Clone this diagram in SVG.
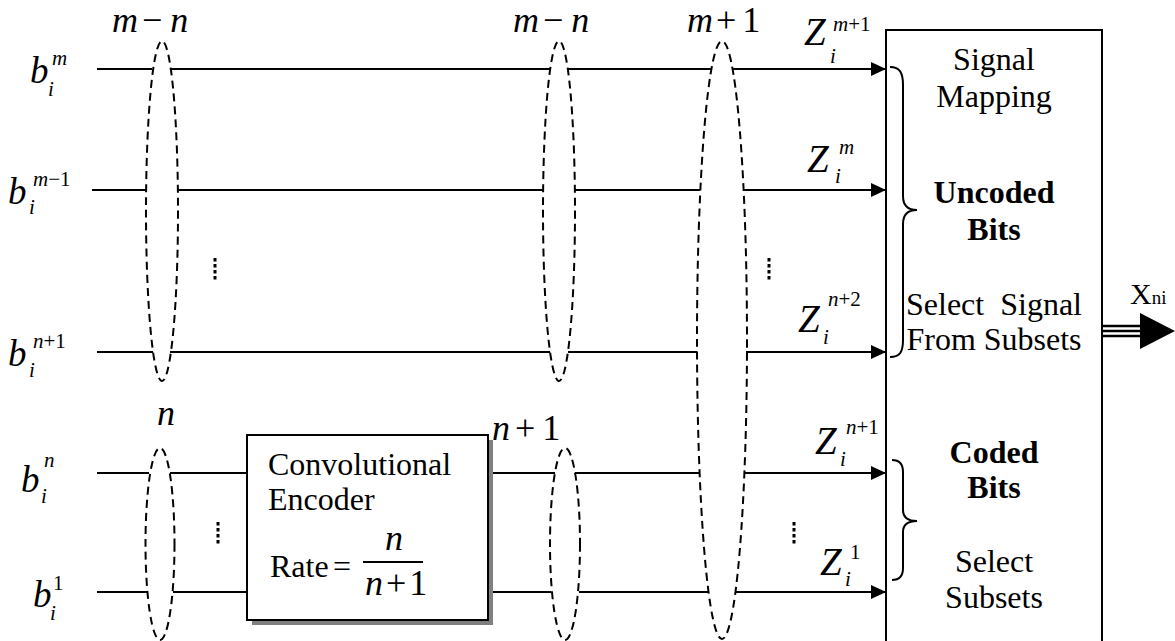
<svg xmlns="http://www.w3.org/2000/svg" width="1175" height="641" viewBox="0 0 1175 641">
<style>
text{font-family:"Liberation Serif","Times New Roman",serif;fill:#000}
.mi{font-style:italic;font-size:37px}
.mz{font-style:italic;font-size:39px}
.ms{font-style:italic;font-size:21px}
.up{font-style:normal}
.eq{font-size:36px}
.t{font-size:32px}
.tc{font-size:32px;text-anchor:middle}
.b{font-weight:bold}
.ln{stroke:#000;stroke-width:2;fill:none}
.el{stroke:#000;stroke-width:2;fill:none;stroke-dasharray:8 5}
.dots{stroke:#000;stroke-width:3;stroke-dasharray:3.5 2.5}
</style>
<defs>
<marker id="ah" markerWidth="15" markerHeight="14" refX="15" refY="7" orient="auto" markerUnits="userSpaceOnUse">
<path d="M0,0 L15,7 L0,14 Z" fill="#000"/>
</marker>
</defs>
<rect width="1175" height="641" fill="#fff"/>

<g id="connectors">
<path class="ln" d="M97,69H152M170,69H550M568,69H712"/>
<line class="ln" x1="732" y1="69" x2="886" y2="69" marker-end="url(#ah)"/>
<path class="ln" d="M92,190H146M177,190H543M574,190H700"/>
<line class="ln" x1="744" y1="190" x2="886" y2="190" marker-end="url(#ah)"/>
<path class="ln" d="M97,352H153M170,352H550M568,352H697"/>
<line class="ln" x1="746" y1="352" x2="886" y2="352" marker-end="url(#ah)"/>
<path class="ln" d="M97,473H149M170,473H247M488,473H555M575,473H700"/>
<line class="ln" x1="744" y1="473" x2="886" y2="473" marker-end="url(#ah)"/>
<path class="ln" d="M97,592H147M173,592H247M488,592H551M579,592H708"/>
<line class="ln" x1="735" y1="592" x2="886" y2="592" marker-end="url(#ah)"/>
<line class="dots" x1="215" y1="258" x2="215" y2="282"/>
<line class="dots" x1="769" y1="258" x2="769" y2="282"/>
<line class="dots" x1="218" y1="522" x2="218" y2="546"/>
<line class="dots" x1="794" y1="522" x2="794" y2="546"/>
</g>

<g id="groupings">
<ellipse class="el" cx="162" cy="211" rx="16" ry="170"/>
<ellipse class="el" cx="559" cy="211" rx="16" ry="170"/>
<ellipse class="el" cx="722" cy="340" rx="25" ry="299"/>
<ellipse class="el" cx="160" cy="544" rx="14.5" ry="96"/>
<ellipse class="el" cx="565" cy="544" rx="15" ry="96"/>
<text class="eq" x="112" y="32"><tspan font-style="italic">m</tspan><tspan dx="4">−</tspan><tspan dx="8" font-style="italic">n</tspan></text>
<text class="eq" x="513" y="32"><tspan font-style="italic">m</tspan><tspan dx="4">−</tspan><tspan dx="8" font-style="italic">n</tspan></text>
<text class="eq" x="687" y="32"><tspan font-style="italic">m</tspan><tspan dx="3">+</tspan><tspan dx="6">1</tspan></text>
<text class="eq" x="157" y="425" font-style="italic">n</text>
<text class="eq" x="492" y="440"><tspan font-style="italic">n</tspan><tspan dx="5">+</tspan><tspan dx="7">1</tspan></text>
</g>

<g id="inputs">
<text class="mi" x="30" y="83">b</text><text class="ms" x="48" y="96">i</text><text class="ms" x="52" y="65">m</text>
<text class="mi" x="8" y="204">b</text><text class="ms" x="29" y="214">i</text><text class="ms" x="33" y="186">m<tspan class="up">−1</tspan></text>
<text class="mi" x="8" y="366">b</text><text class="ms" x="29" y="377">i</text><text class="ms" x="33" y="348">n<tspan class="up">+1</tspan></text>
<text class="mi" x="21" y="492">b</text><text class="ms" x="41" y="503">i</text><text class="ms" x="44" y="467">n</text>
<text class="mi" x="33" y="607">b</text><text class="ms" x="50" y="620">i</text><text class="ms up" x="53" y="590">1</text>
</g>

<g id="outputs-z">
<text class="mz" x="804" y="45">Z</text><text class="ms" x="830" y="63">i</text><text class="ms" x="833" y="31">m<tspan class="up">+1</tspan></text>
<text class="mz" x="807" y="172">Z</text><text class="ms" x="835" y="183">i</text><text class="ms" x="839" y="154">m</text>
<text class="mz" x="798" y="332">Z</text><text class="ms" x="823" y="344">i</text><text class="ms" x="828" y="306">n<tspan class="up">+2</tspan></text>
<text class="mz" x="815" y="454">Z</text><text class="ms" x="840" y="466">i</text><text class="ms" x="846" y="434">n<tspan class="up">+1</tspan></text>
<text class="mz" x="820" y="575">Z</text><text class="ms" x="845" y="586">i</text><text class="ms up" x="850" y="559">1</text>
</g>

<g id="encoder">
<rect x="252" y="440" width="241" height="185" fill="#808080"/>
<rect x="247" y="435" width="241" height="185" fill="#fff" stroke="#000" stroke-width="2"/>
<text class="t" x="268" y="475">Convolutional</text>
<text class="t" x="268" y="510">Encoder</text>
<text class="t" x="270" y="577">Rate</text>
<text class="t" x="333" y="577">=</text>
<text class="eq" x="385" y="550" font-style="italic">n</text>
<line x1="363" y1="562" x2="423" y2="562" stroke="#000" stroke-width="2"/>
<text class="eq" x="365" y="595"><tspan font-style="italic">n</tspan><tspan dx="3">+</tspan><tspan dx="3">1</tspan></text>
</g>

<g id="mapper">
<rect x="886" y="30" width="216" height="612" fill="#fff" stroke="#000" stroke-width="2"/>
<path class="ln" d="M890,67 C900,67 903,73 903,85 L903,196 C903,205 908,210 917,210 C908,210 903,215 903,224 L903,340 C903,352 900,357 890,357"/>
<path class="ln" d="M892,460 C899,460 903,464 903,472 L903,510 C903,517 908,521 917,521 C908,521 903,525 903,532 L903,568 C903,576 899,580 892,580"/>
<text class="tc" x="994" y="70">Signal</text>
<text class="tc" x="994" y="107">Mapping</text>
<text class="tc b" x="994" y="203">Uncoded</text>
<text class="tc b" x="994" y="240">Bits</text>
<text class="tc" x="994" y="315" xml:space="preserve">Select  Signal</text>
<text class="tc" x="994" y="350">From Subsets</text>
<text class="tc b" x="994" y="463">Coded</text>
<text class="tc b" x="994" y="498">Bits</text>
<text class="tc" x="994" y="572">Select</text>
<text class="tc" x="994" y="608">Subsets</text>
</g>

<g id="output">
<path d="M1102,326H1142M1102,331H1142M1102,336H1142" stroke="#000" stroke-width="2.5" fill="none"/>
<path d="M1140,313 L1175,331 L1140,349 Z" fill="#000"/>
<text x="1130" y="304" font-size="30">X<tspan font-size="19">ni</tspan></text>
</g>
</svg>
